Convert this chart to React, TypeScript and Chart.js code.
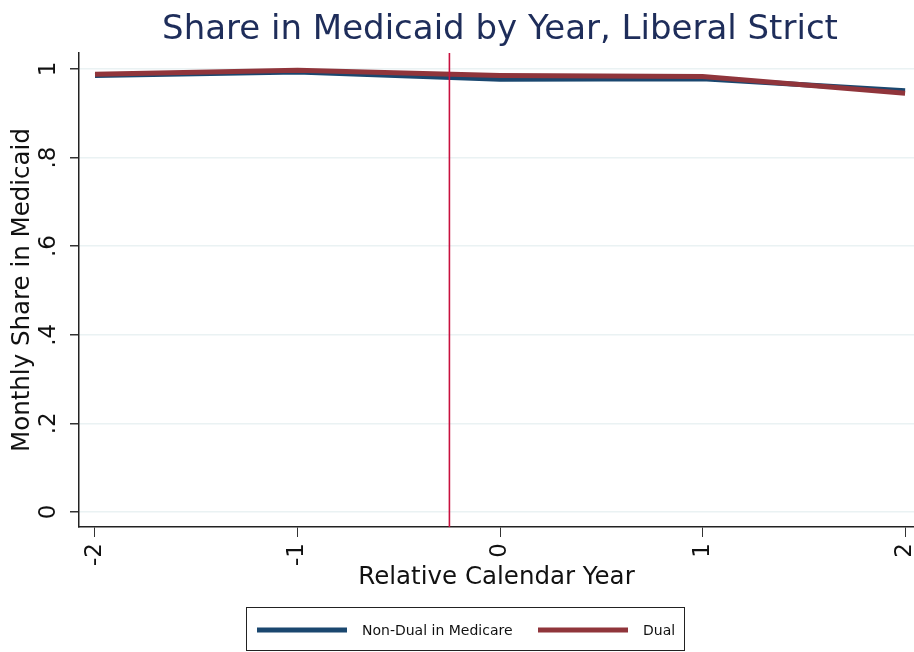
import React, { useEffect, useRef } from "react";
import { Chart, registerables } from "chart.js";

Chart.register(...registerables);

const years = [-2, -1, 0, 1, 2];
const nonDual = [0.985, 0.993, 0.977, 0.978, 0.951];
const dual = [0.988, 0.997, 0.985, 0.983, 0.945];
const yTicks = [0, 0.2, 0.4, 0.6, 0.8, 1];
const yTickLabels = ["0", ".2", ".4", ".6", ".8", "1"];
const xTickLabels = ["-2", "-1", "0", "1", "2"];
const eventLine = -0.25;

const TITLE = "Share in Medicaid by Year, Liberal Strict";
const FONT = "'DejaVu Sans', sans-serif";
const BLUE = "#1a476f";
const RED = "#90353b";

const overlay = {
  id: "overlay",
  afterDatasetsDraw(chart: any) {
    const { ctx, chartArea, scales } = chart;
    const x = scales.x.getPixelForValue(eventLine);
    ctx.save();
    ctx.strokeStyle = "#c8103e";
    ctx.lineWidth = 1.6;
    ctx.beginPath();
    ctx.moveTo(x, chartArea.top);
    ctx.lineTo(x, chartArea.bottom);
    ctx.stroke();
    ctx.restore();
  },
  afterDraw(chart: any) {
    const { ctx } = chart;
    ctx.save();
    // title
    ctx.fillStyle = "#1e2d5a";
    ctx.font = `34px ${FONT}`;
    ctx.textAlign = "center";
    ctx.textBaseline = "alphabetic";
    ctx.fillText(TITLE, 500, 39);
    // legend box
    ctx.strokeStyle = "#222";
    ctx.lineWidth = 1;
    ctx.strokeRect(246.5, 607.5, 438, 43);
    const items = chart.data.datasets;
    const starts = [257, 538];
    ctx.font = `14px ${FONT}`;
    ctx.textAlign = "left";
    ctx.textBaseline = "middle";
    items.forEach((ds: any, i: number) => {
      const sx = starts[i];
      ctx.strokeStyle = ds.borderColor;
      ctx.lineWidth = 5;
      ctx.beginPath();
      ctx.moveTo(sx, 630);
      ctx.lineTo(sx + 90, 630);
      ctx.stroke();
      ctx.fillStyle = "#111";
      ctx.fillText(ds.label, sx + 105, 631);
    });
    ctx.restore();
  },
};

export default function App() {
  const ref = useRef<HTMLCanvasElement>(null);
  useEffect(() => {
    document.body.style.margin = "0";
    const chart = new Chart(ref.current!, {
      type: "line",
      data: {
        datasets: [
          {
            label: "Non-Dual in Medicare",
            data: years.map((y, i) => ({ x: y, y: nonDual[i] })),
            borderColor: BLUE,
            backgroundColor: BLUE,
            borderWidth: 5,
            pointRadius: 0,
            tension: 0,
            order: 1,
          },
          {
            label: "Dual",
            data: years.map((y, i) => ({ x: y, y: dual[i] })),
            borderColor: RED,
            backgroundColor: RED,
            borderWidth: 5,
            pointRadius: 0,
            tension: 0,
            order: 0,
          },
        ],
      },
      options: {
        responsive: false,
        animation: false,
        layout: { padding: { top: 53, left: 0, right: 0, bottom: 52 } },
        plugins: { legend: { display: false }, title: { display: false }, tooltip: { enabled: false } },
        scales: {
          x: {
            type: "linear",
            min: -2.079,
            max: 2.044,
            afterBuildTicks: (s: any) => {
              s.ticks = years.map((v) => ({ value: v }));
            },
            afterFit: (s: any) => {
              s.height = 73;
              s.paddingLeft = 0;
              s.paddingRight = 0;
            },
            ticks: {
              minRotation: 90,
              maxRotation: 90,
              padding: 6,
              color: "#111",
              font: { family: FONT, size: 23 },
              callback: (v: any, i: number) => xTickLabels[i],
            },
            grid: { drawOnChartArea: false, drawTicks: true, tickLength: 10, tickColor: "#333" },
            border: { color: "#222", width: 1.5 },
            title: {
              display: true,
              text: "Relative Calendar Year",
              color: "#111",
              font: { family: FONT, size: 24.5 },
              padding: { top: 0, bottom: 8 },
            },
          },
          y: {
            type: "linear",
            min: -0.034,
            max: 1.036,
            afterBuildTicks: (s: any) => {
              s.ticks = yTicks.map((v) => ({ value: v }));
            },
            afterFit: (s: any) => {
              s.width = 79;
              s.paddingTop = 0;
              s.paddingBottom = 0;
            },
            ticks: {
              minRotation: 90,
              maxRotation: 90,
              crossAlign: "center",
              padding: 10,
              color: "#111",
              font: { family: FONT, size: 23 },
              callback: (v: any, i: number) => yTickLabels[i],
            },
            grid: { color: "#eaf2f3", lineWidth: 1.5, drawTicks: true, tickLength: 9, tickColor: "#333" },
            border: { color: "#222", width: 1.5 },
            title: {
              display: true,
              text: "Monthly Share in Medicaid",
              color: "#111",
              font: { family: FONT, size: 24.5 },
              padding: { top: 8, bottom: 0 },
            },
          },
        },
      },
      plugins: [overlay],
    });
    return () => chart.destroy();
  }, []);
  return <canvas ref={ref} width={914} height={652} style={{ display: "block" }} />;
}
